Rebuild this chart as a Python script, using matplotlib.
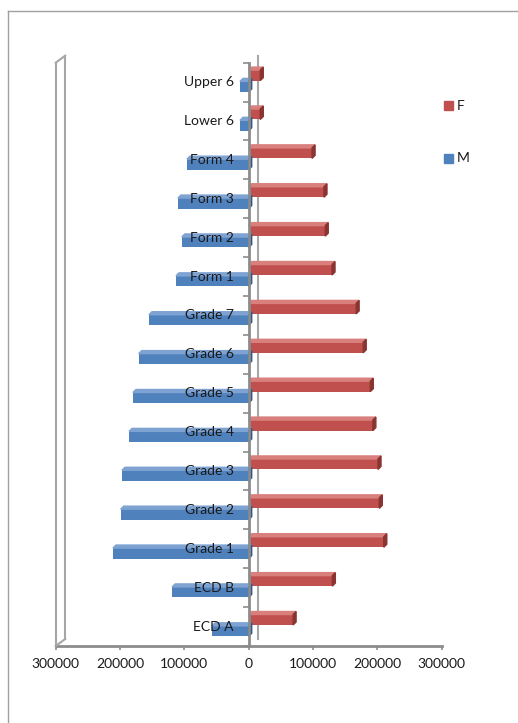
import numpy as np
import matplotlib.pyplot as plt
from matplotlib.patches import Polygon, Rectangle
from matplotlib.lines import Line2D
from matplotlib.transforms import offset_copy

plt.rcParams['font.family'] = ['Lato', 'DejaVu Sans']

# Enrolment by level, bottom to top
levels = ['ECD A', 'ECD B', 'Grade 1', 'Grade 2', 'Grade 3', 'Grade 4', 'Grade 5',
          'Grade 6', 'Grade 7', 'Form 1', 'Form 2', 'Form 3', 'Form 4',
          'Lower 6', 'Upper 6']
male = [57000, 119000, 211000, 199000, 197000, 186000, 180000,
        171000, 155000, 113000, 104000, 110000, 96000, 13500, 13500]
female = [69000, 130000, 210000, 203000, 201000, 193000, 189000,
          178000, 167000, 129500, 119000, 117000, 98500, 18000, 18000]

x_ticks = [-300000, -200000, -100000, 0, 100000, 200000, 300000]
x_tick_labels = ['300000', '200000', '100000', '0', '100000', '200000', '300000']

blue, blue_top, blue_side = '#4F81BD', '#7EA3D3', '#2E5A8C'
red, red_top, red_side = '#C0504D', '#D9807D', '#8A3432'
axis_grey = '#8C8C8C'
wall_grey = '#A6A6A6'
text_col = '#1A1A1A'

fig = plt.figure(figsize=(5.18, 7.23), dpi=100)
ax = fig.add_axes([55.7 / 518, 77 / 723, 386 / 518, 583.3 / 723])
n = len(levels)
ax.set_xlim(-300000, 300000)
ax.set_ylim(-0.5, n - 0.5)

pos = np.arange(n)
h = 0.27
# depth of the bar faces in data units (about 3 px each way)
dx = 3 / (386 / 600000)
dy = 3 / (583.3 / n)

m = -np.array(male)
f = np.array(female)
yb = pos - 0.116
yr = pos + 0.175

ax.barh(yb, m, height=h, color=blue, zorder=2)
ax.barh(yr, f, height=h, color=red, zorder=2)

# top and end faces of the 3-d bars
for y, v in zip(yb, m):
    top, bot = y + h / 2, y - h / 2
    ax.add_patch(Polygon([(v, top), (0, top), (dx, top + dy), (v + dx, top + dy)],
                         closed=True, color=blue_top, zorder=2))
    ax.add_patch(Polygon([(0, bot), (0, top), (dx, top + dy), (dx, bot + dy)],
                         closed=True, color=blue_side, zorder=2))

for y, v in zip(yr, f):
    top, bot = y + h / 2, y - h / 2
    ax.add_patch(Polygon([(0, top), (v, top), (v + dx, top + dy), (dx, top + dy)],
                         closed=True, color=red_top, zorder=2))
    ax.add_patch(Polygon([(v, bot), (v, top), (v + dx, top + dy), (v + dx, bot + dy)],
                         closed=True, color=red_side, zorder=2))

# back wall line and the thin left wall
back = offset_copy(ax.transData, fig=fig, x=9.5, y=7, units='dots')
ax.plot([0, 0], [-0.5, n - 0.5], color=wall_grey, lw=1.5,
        transform=back, clip_on=False, zorder=1)
ax.plot([-300000, -300000], [-0.5, n - 0.5], color=wall_grey, lw=1.5,
        transform=back, clip_on=False, zorder=1)
ax.plot([-300000, -300000], [-0.5, n - 0.5], color=wall_grey, lw=1.5,
        clip_on=False, zorder=1)
for yy in (-0.5, n - 0.5):
    x0, y0 = ax.transData.transform((-300000, yy))
    x1, y1 = back.transform((-300000, yy))
    fig.add_artist(Line2D([x0 / 518, x1 / 518], [y0 / 723, y1 / 723],
                          color=wall_grey, lw=1.5))

# category axis at zero, ticks between levels
ax.plot([0, 0], [-0.5, n - 0.5], color=axis_grey, lw=2, clip_on=False, zorder=3)
bounds = np.arange(-0.5, n, 1.0)
ax.plot(np.zeros(len(bounds)), bounds, linestyle='none', marker=0,
        markersize=4.5, markeredgewidth=1.2, color=axis_grey, clip_on=False, zorder=3)

# category labels sit over the bars
lab_tr = offset_copy(ax.transData, fig=fig, x=-15, y=0, units='dots')
for p, name in zip(pos, levels):
    ax.text(0, p, name, transform=lab_tr, ha='right', va='center',
            fontsize=10, color=text_col, zorder=5)

for s in ['top', 'right', 'left']:
    ax.spines[s].set_visible(False)
ax.spines['bottom'].set_color(axis_grey)
ax.spines['bottom'].set_linewidth(2)
ax.set_yticks([])
ax.set_xticks(x_ticks)
ax.set_xticklabels(x_tick_labels)
ax.tick_params(axis='x', length=3, width=1.2, color=axis_grey, pad=6,
               labelsize=10, labelcolor=text_col)

# legend
for label, col, yc in [('F', red, 105.5), ('M', blue, 158.5)]:
    fig.add_artist(Rectangle((444 / 518, 1 - (yc + 4.5) / 723), 9 / 518, 9 / 723,
                             color=col, transform=fig.transFigure))
    fig.text(457 / 518, 1 - yc / 723, label, ha='left', va='center',
             fontsize=10, color=text_col)

# chart area frame
fig.add_artist(Line2D([8 / 518, 1], [1 - 11 / 723, 1 - 11 / 723], color='#A0A0A0', lw=1))
fig.add_artist(Line2D([8 / 518, 8 / 518], [0, 1 - 11 / 723], color='#A0A0A0', lw=1))

fig.savefig('out.png', dpi=100)
